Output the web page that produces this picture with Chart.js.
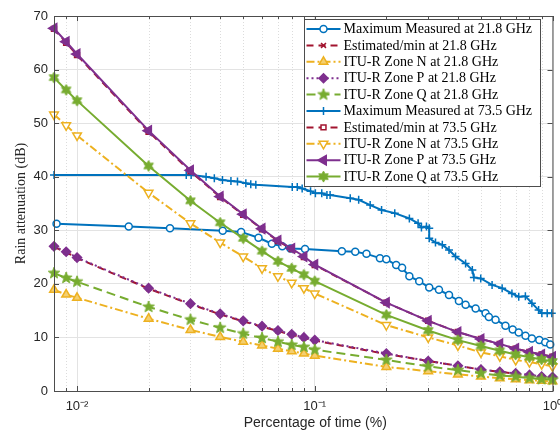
<!DOCTYPE html>
<html>
<head>
<meta charset="utf-8">
<script src="https://cdn.jsdelivr.net/npm/chart.js@4.4.0/dist/chart.umd.min.js"></script>
<style>
html, body { margin: 0; padding: 0; background: #fff; }
#wrap { width: 560px; height: 430px; }
</style>
</head>
<body>
<div id="wrap"><canvas id="rainChart" width="560" height="430"></canvas></div>
<script>
// percentage of time, shared by the ITU-R and estimated curves
const pct = [0.008, 0.009, 0.01, 0.02, 0.03, 0.04, 0.05, 0.06, 0.07, 0.08, 0.09, 0.1, 0.2, 0.3, 0.4, 0.5, 0.6, 0.7, 0.8, 0.9, 1];

// measured curves (own x values)
const meas21x = [0.0082, 0.0165, 0.0246, 0.041, 0.049, 0.058, 0.066, 0.073, 0.079, 0.091, 0.13, 0.148, 0.165, 0.188, 0.2, 0.22, 0.233, 0.25, 0.275, 0.303, 0.333, 0.367, 0.404, 0.431, 0.475, 0.523, 0.54, 0.576, 0.634, 0.68, 0.721, 0.77, 0.819, 0.88, 0.932, 0.978];
const meas21y = [31.2, 30.7, 30.4, 29.9, 29.7, 28.6, 27.5, 27.0, 26.6, 26.5, 26.1, 26.0, 25.6, 24.8, 24.6, 23.5, 23.0, 21.4, 20.5, 19.3, 18.9, 17.9, 16.8, 16.1, 15.4, 14.5, 13.8, 13.3, 12.2, 11.5, 10.9, 10.3, 9.8, 9.5, 9.1, 8.7];
const meas73x = [0.008, 0.0288, 0.0302, 0.0349, 0.0378, 0.0409, 0.0444, 0.0473, 0.0513, 0.0538, 0.0565, 0.0804, 0.0844, 0.0885, 0.096, 0.1006, 0.107, 0.1125, 0.116, 0.141, 0.153, 0.171, 0.191, 0.217, 0.25, 0.272, 0.281, 0.295, 0.303, 0.303, 0.322, 0.344, 0.367, 0.391, 0.431, 0.46, 0.467, 0.499, 0.557, 0.614, 0.675, 0.721, 0.769, 0.819, 0.874, 0.902, 0.95, 0.993];
const meas73y = [40.3, 40.3, 40.3, 40.0, 39.7, 39.4, 39.2, 39.1, 38.8, 38.6, 38.5, 38.1, 38.1, 37.8, 37.3, 36.9, 36.9, 36.6, 36.6, 36.0, 35.7, 34.7, 33.8, 33.2, 32.2, 31.3, 30.5, 30.7, 30.4, 28.5, 27.7, 27.3, 26.3, 25.1, 23.8, 22.6, 21.2, 21.0, 19.8, 19.2, 18.2, 17.6, 17.7, 16.4, 15.1, 14.5, 14.5, 14.5];

// 21.8 GHz
const est21 = [26.9, 25.9, 24.8, 19.1, 16.2, 14.3, 13.0, 12.0, 11.2, 10.5, 9.9, 9.4, 6.9, 5.6, 4.7, 4.0, 3.6, 3.2, 2.9, 2.7, 2.6];
const zoneN21 = [18.9, 18.0, 17.4, 13.5, 11.4, 10.1, 9.2, 8.5, 7.9, 7.4, 7.0, 6.6, 4.5, 3.7, 3.1, 2.7, 2.4, 2.2, 2.0, 1.9, 1.8];
const zoneP21 = [27.0, 26.0, 24.9, 19.2, 16.3, 14.4, 13.1, 12.1, 11.3, 10.6, 10.0, 9.5, 7.0, 5.6, 4.7, 4.0, 3.6, 3.3, 3.0, 2.7, 2.6];
const zoneQ21 = [22.0, 21.1, 20.4, 15.7, 13.3, 11.8, 10.7, 9.9, 9.2, 8.6, 8.2, 7.7, 5.8, 4.6, 3.9, 3.3, 2.9, 2.7, 2.4, 2.2, 2.1];

// 73.5 GHz
const est73 = [67.6, 65.0, 62.7, 48.4, 41.0, 36.2, 32.9, 30.2, 28.0, 26.5, 25.0, 23.5, 16.5, 13.1, 11.0, 9.7, 8.8, 7.9, 7.3, 6.8, 6.4];
const zoneN73 = [51.6, 49.6, 47.7, 37.0, 31.3, 27.7, 25.1, 22.9, 21.4, 20.2, 19.2, 18.2, 12.3, 10.0, 8.5, 7.2, 6.5, 5.8, 5.4, 5.0, 4.6];
const zoneP73 = [67.7, 65.2, 62.9, 48.6, 41.2, 36.3, 33.0, 30.3, 28.1, 26.6, 25.1, 23.6, 16.5, 13.1, 11.0, 9.7, 8.8, 7.9, 7.3, 6.8, 6.4];
const zoneQ73 = [58.5, 56.2, 54.2, 42.0, 35.5, 31.4, 28.5, 26.1, 24.2, 22.9, 21.7, 20.5, 14.2, 11.3, 9.5, 8.4, 7.5, 6.8, 6.3, 5.9, 5.5];

const xTicks = [0.01, 0.1, 1];
const xTickLabels = ['10\u207B\u00B2', '10\u207B\u00B9', '10\u2070'];
const xMinor = [0.008, 0.009, 0.02, 0.03, 0.04, 0.05, 0.06, 0.07, 0.08, 0.09, 0.2, 0.3, 0.4, 0.5, 0.6, 0.7, 0.8, 0.9];

const blue = '#0072BD', red = '#A2142F', yellow = '#EDB120', purple = '#7E2F8E', green = '#77AC30';

function starImage(color, r, points, inner) {
	const s = Math.ceil(r * 2 + 4);
	const c = document.createElement('canvas');
	c.width = s; c.height = s;
	const g = c.getContext('2d');
	g.beginPath();
	for (let i = 0; i < points * 2; i++) {
		const rad = i % 2 === 0 ? r : r * inner;
		const a = -Math.PI / 2 + i * Math.PI / points;
		g.lineTo(s / 2 + rad * Math.cos(a), s / 2 + rad * Math.sin(a));
	}
	g.closePath();
	g.fillStyle = color;
	g.fill();
	g.strokeStyle = color;
	g.lineWidth = 1;
	g.stroke();
	return c;
}
const pentagram = starImage(green, 6, 5, 0.42);
const hexagram = starImage(green, 5.5, 6, 0.55);

function pts(xs, ys) {
	return xs.map((x, i) => ({ x: x, y: ys[i] }));
}

function series(label, data, color, dash, style, fill, radius, rotation) {
	return {
		label: label,
		data: data,
		showLine: true,
		borderColor: color,
		backgroundColor: color,
		borderWidth: 2,
		borderDash: dash,
		pointStyle: style,
		pointRotation: rotation || 0,
		pointRadius: radius,
		pointBorderWidth: 1.5,
		pointBorderColor: color,
		pointBackgroundColor: fill,
		tension: 0,
		clip: false,
	};
}

const datasets = [
	series('Maximum Measured at 21.8 GHz', pts(meas21x, meas21y), blue, [], 'circle', '#fff', 3.5),
	series('Estimated/min at 21.8 GHz', pts(pct, est21), red, [7, 5], 'crossRot', red, 3.5),
	series('ITU-R Zone N at 21.8 GHz', pts(pct, zoneN21), yellow, [8, 3, 2, 3], 'triangle', '#f4cf70', 5),
	series('ITU-R Zone P at 21.8 GHz', pts(pct, zoneP21), purple, [2, 3], 'rectRot', purple, 4.5),
	series('ITU-R Zone Q at 21.8 GHz', pts(pct, zoneQ21), green, [9, 5], pentagram, green, 6),
	series('Maximum Measured at 73.5 GHz', pts(meas73x, meas73y), blue, [], 'cross', blue, 4),
	series('Estimated/min at 73.5 GHz', pts(pct, est73), red, [7, 5], 'rect', '#fff', 3.5),
	series('ITU-R Zone N at 73.5 GHz', pts(pct, zoneN73), yellow, [8, 3, 2, 3], 'triangle', '#fff', 5, 180),
	series('ITU-R Zone P at 73.5 GHz', pts(pct, zoneP73), purple, [], 'triangle', purple, 5.5, -90),
	series('ITU-R Zone Q at 73.5 GHz', pts(pct, zoneQ73), green, [], hexagram, green, 5.5),
];
// later series on top, like the original
datasets.forEach((d, i) => { d.order = -i; });

const minorGrid = {
	id: 'minorGrid',
	beforeDatasetsDraw(chart) {
		const { ctx, chartArea } = chart;
		const xs = chart.scales.x;
		ctx.save();
		ctx.strokeStyle = '#dcdcdc';
		ctx.lineWidth = 1;
		ctx.setLineDash([1, 2]);
		xMinor.forEach(v => {
			const px = Math.round(xs.getPixelForValue(v)) + 0.5;
			ctx.beginPath();
			ctx.moveTo(px, chartArea.top);
			ctx.lineTo(px, chartArea.bottom);
			ctx.stroke();
		});
		ctx.restore();
	}
};

const axesBox = {
	id: 'axesBox',
	afterDatasetsDraw(chart) {
		const { ctx, chartArea } = chart;
		const { left, right, top, bottom } = chartArea;
		const xs = chart.scales.x, ys = chart.scales.y;
		ctx.save();
		ctx.strokeStyle = '#4d4d4d';
		ctx.lineWidth = 1;
		ctx.strokeRect(left + 0.5, top + 0.5, right - left, bottom - top);
		ctx.beginPath();
		ys.ticks.forEach(t => {
			const py = Math.round(ys.getPixelForValue(t.value)) + 0.5;
			ctx.moveTo(left, py); ctx.lineTo(left + 5, py);
			ctx.moveTo(right, py); ctx.lineTo(right - 5, py);
		});
		xTicks.forEach(v => {
			const px = Math.round(xs.getPixelForValue(v)) + 0.5;
			ctx.moveTo(px, bottom); ctx.lineTo(px, bottom - 5);
			ctx.moveTo(px, top); ctx.lineTo(px, top + 5);
		});
		xMinor.forEach(v => {
			const px = Math.round(xs.getPixelForValue(v)) + 0.5;
			ctx.moveTo(px, bottom); ctx.lineTo(px, bottom - 3);
			ctx.moveTo(px, top); ctx.lineTo(px, top + 3);
		});
		ctx.stroke();
		ctx.restore();
	}
};

const legendBox = {
	id: 'legendBox',
	afterDraw(chart) {
		const { ctx, chartArea } = chart;
		const x0 = chartArea.right - 249, y0 = chartArea.top + 3;
		const w = 236, rowH = 16.4;
		const h = rowH * datasets.length + 3;
		ctx.save();
		ctx.fillStyle = '#fff';
		ctx.fillRect(x0, y0, w, h);
		ctx.strokeStyle = '#4d4d4d';
		ctx.lineWidth = 1;
		ctx.setLineDash([]);
		ctx.strokeRect(Math.round(x0) + 0.5, Math.round(y0) + 0.5, w, h);
		chart.data.datasets.forEach((d, i) => {
			const cy = y0 + 10 + i * rowH;
			ctx.strokeStyle = d.borderColor;
			ctx.lineWidth = d.borderWidth;
			ctx.setLineDash(d.borderDash);
			ctx.beginPath();
			ctx.moveTo(x0 + 3, cy);
			ctx.lineTo(x0 + 37, cy);
			ctx.stroke();
			ctx.setLineDash([]);
			ctx.fillStyle = d.pointBackgroundColor;
			ctx.strokeStyle = d.pointBorderColor;
			ctx.lineWidth = d.pointBorderWidth;
			Chart.helpers.drawPoint(ctx, {
				pointStyle: d.pointStyle,
				rotation: d.pointRotation,
				radius: d.pointRadius,
				borderWidth: d.pointBorderWidth
			}, x0 + 20, cy);
			ctx.fillStyle = '#000';
			ctx.font = '14px "Liberation Serif"';
			ctx.textAlign = 'left';
			ctx.textBaseline = 'middle';
			ctx.fillText(d.label, x0 + 40, cy + 0.5);
		});
		ctx.restore();
	}
};

const xTitle = {
	id: 'xTitle',
	afterDraw(chart) {
		const { ctx, chartArea } = chart;
		ctx.save();
		ctx.fillStyle = '#262626';
		ctx.font = '14px "Liberation Sans"';
		ctx.textAlign = 'center';
		ctx.textBaseline = 'middle';
		ctx.fillText('Percentage of time (%)', (chartArea.left + chartArea.right) / 2 + 12, 423);
		ctx.restore();
	}
};

const ctx_rain = document.getElementById('rainChart').getContext('2d');
const myChart_rain = new Chart(ctx_rain, {
	type: 'scatter',
	data: { datasets: datasets },
	options: {
		responsive: false,
		animation: false,
		layout: { padding: { top: 16, right: 6, left: 0, bottom: 0 } },
		scales: {
			x: {
				type: 'logarithmic',
				min: 0.008,
				max: 1,
				afterBuildTicks: s => { s.ticks = xTicks.map(v => ({ value: v })); },
				afterFit: s => {
					s.height = 39;
					s.paddingLeft = 0;
					s.paddingRight = 0;
				},
				ticks: {
					autoSkip: false,
					maxRotation: 0,
					padding: 8,
					color: '#262626',
					font: { family: 'Liberation Sans', size: 13 },
					callback: (v, i) => xTickLabels[i],
				},
				grid: { color: '#e3e3e3', drawTicks: false },
				border: { display: false },
			},
			y: {
				min: 0,
				max: 70,
				afterFit: s => { s.width = 54; },
				ticks: {
					stepSize: 10,
					padding: 6,
					color: '#262626',
					font: { family: 'Liberation Sans', size: 13 },
				},
				grid: { color: '#e3e3e3', drawTicks: false },
				border: { display: false },
				title: {
					display: true,
					text: 'Rain attenuation (dB)',
					color: '#262626',
					font: { family: 'Liberation Serif', size: 14 },
					padding: { top: 13, bottom: 0 },
				},
			},
		},
		plugins: {
			legend: { display: false },
			tooltip: { enabled: false },
			title: { display: false },
		}
	},
	plugins: [minorGrid, axesBox, legendBox, xTitle]
});
</script>
</body>
</html>
